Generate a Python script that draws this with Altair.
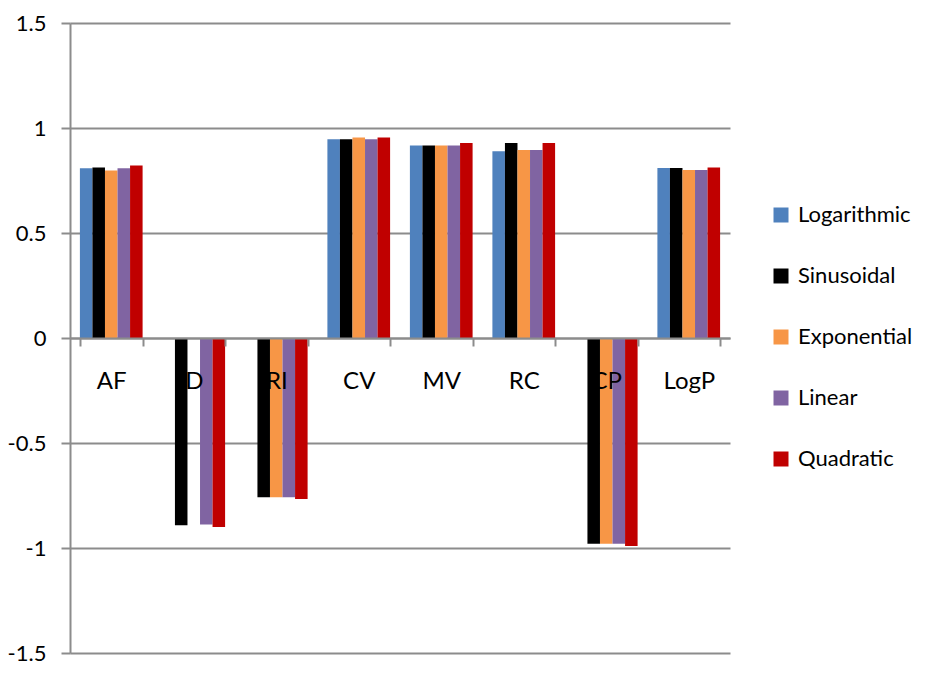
import altair as alt
import pandas as pd

categories = ["AF", "D", "RI", "CV", "MV", "RC", "CP", "LogP"]
series = ["Logarithmic", "Sinusoidal", "Exponential", "Linear", "Quadratic"]
logarithmic = [0.808, None, None, 0.946, 0.917, 0.889, None, 0.809]
sinusoidal = [0.812, -0.892, -0.758, 0.946, 0.917, 0.928, -0.980, 0.809]
exponential = [0.798, None, -0.758, 0.955, 0.917, 0.895, -0.980, 0.800]
linear = [0.808, -0.888, -0.758, 0.946, 0.917, 0.895, -0.980, 0.800]
quadratic = [0.821, -0.900, -0.767, 0.955, 0.928, 0.928, -0.991, 0.812]
colors = ["#4F81BD", "#000000", "#F79646", "#8064A2", "#C00000"]

rows = []
for name, vals in zip(series, [logarithmic, sinusoidal, exponential, linear, quadratic]):
    for c, v in zip(categories, vals):
        if v is not None:
            rows.append({"Category": c, "Series": name, "Value": v})
df = pd.DataFrame(rows)

FONT = "Lato, sans-serif"
GRAY = "#8c8c8c"
H = 630

chart = alt.Chart(df).mark_bar().encode(
    x=alt.X("Category:N", sort=categories, title=None,
            scale=alt.Scale(paddingInner=0.24, paddingOuter=0.12),
            axis=alt.Axis(offset=-H / 2, domainColor=GRAY, domainWidth=2,
                          tickColor=GRAY, tickWidth=2, tickSize=8, tickBand="extent",
                          labelAngle=0, labelFontSize=24, labelFont=FONT,
                          labelColor="#000000", labelBaseline="middle",
                          labelPadding=35, grid=False, zindex=1)),
    xOffset=alt.XOffset("Series:N", sort=series),
    y=alt.Y("Value:Q", title=None,
            scale=alt.Scale(domain=[-1.5, 1.5], nice=False, zero=False),
            axis=alt.Axis(values=[-1.5, -1, -0.5, 0, 0.5, 1, 1.5],
                          labelExpr="toString(datum.value)",
                          domainColor=GRAY, domainWidth=2, tickColor=GRAY,
                          tickWidth=2, tickSize=9, gridColor=GRAY, gridWidth=2,
                          labelFontSize=22, labelFont=FONT, labelColor="#000000",
                          labelPadding=15)),
    color=alt.Color("Series:N", sort=series,
                    scale=alt.Scale(domain=series, range=colors),
                    legend=alt.Legend(title=None, orient="none", legendX=700,
                                      legendY=181, symbolType="square",
                                      symbolSize=225, symbolStrokeWidth=0,
                                      labelFontSize=22, labelFont=FONT,
                                      labelColor="#000000", rowPadding=39,
                                      labelOffset=6)),
).properties(
    width=660, height=H,
    autosize=alt.AutoSizeParams(type="none"),
    padding={"left": 62, "top": 15, "right": 188, "bottom": 13},
).configure_view(stroke=None)

chart.save("out.html", embed_options={"renderer": "svg", "actions": False})
